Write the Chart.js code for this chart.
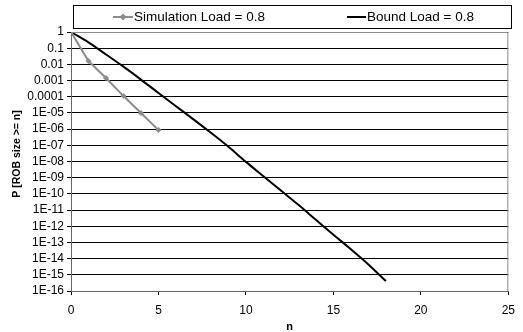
<!DOCTYPE html>
<html><head><meta charset="utf-8">
<script src="https://cdn.jsdelivr.net/npm/chart.js@4/dist/chart.umd.min.js"></script>
<style>html,body{margin:0;padding:0;background:#fff}#wrap{width:523px;height:332px}</style>
</head><body><div id="wrap"><canvas id="c" width="523" height="332"></canvas></div>
<script>
// ---- data ----
const simN = [0, 1, 2, 3, 4, 5];
const simP = [1, 0.016, 0.00145, 1.1e-4, 1.0e-5, 8.7e-7];
const boundN = [0, 1, 2, 3, 4, 5, 6, 7, 8, 9, 10, 11, 12, 13, 14, 15, 16, 17, 18];
const boundP = [1, 0.23, 0.041, 0.0072, 0.00115, 1.7e-4, 2.6e-5, 4.0e-6, 5.9e-7, 8.1e-8, 9.5e-9,
                1.23e-9, 1.6e-10, 2.1e-11, 2.5e-12, 3.0e-13, 3.8e-14, 4.4e-15, 4.1e-16];
const xTickValues = [0, 5, 10, 15, 20, 25];
const yTickValues = [1, 1e-1, 1e-2, 1e-3, 1e-4, 1e-5, 1e-6, 1e-7, 1e-8, 1e-9, 1e-10, 1e-11, 1e-12, 1e-13, 1e-14, 1e-15, 1e-16];
const yTickLabels = ['1', '0.1', '0.01', '0.001', '0.0001', '1E-05', '1E-06', '1E-07', '1E-08', '1E-09', '1E-10', '1E-11', '1E-12', '1E-13', '1E-14', '1E-15', '1E-16'];
const seriesNames = ['Simulation Load = 0.8', 'Bound Load = 0.8'];
const xTitle = 'n';
const yTitle = 'P [ROB size >= n]';

const FONT = '"Liberation Sans", Arial, sans-serif';
Chart.defaults.font.family = FONT;
Chart.defaults.color = '#000';

const SIM_COLOR = '#8c8c8c';
const BOUND_COLOR = '#000000';

const decorPlugin = {
  id: 'decor',
  afterDraw(chart) {
    const ctx = chart.ctx;
    const a = chart.chartArea;
    ctx.save();
    // plot frame (top/right)
    ctx.strokeStyle = '#8c8c8c';
    ctx.lineWidth = 1;
    ctx.beginPath();
    ctx.moveTo(a.left, a.top + 0.5);
    ctx.lineTo(a.right - 0.5, a.top + 0.5);
    ctx.lineTo(a.right - 0.5, a.bottom);
    ctx.stroke();

    // legend box
    ctx.strokeStyle = '#000';
    ctx.lineWidth = 1;
    ctx.strokeRect(73.5, 5.5, 438, 23);
    const ly = 17;
    ctx.font = '13.5px ' + FONT;
    ctx.textBaseline = 'middle';
    ctx.textAlign = 'left';
    ctx.fillStyle = '#000';
    // series 1 sample
    ctx.strokeStyle = SIM_COLOR;
    ctx.lineWidth = 2;
    ctx.beginPath(); ctx.moveTo(113, ly); ctx.lineTo(133, ly); ctx.stroke();
    ctx.fillStyle = SIM_COLOR;
    ctx.beginPath();
    ctx.moveTo(123, ly - 3.5); ctx.lineTo(126.5, ly); ctx.lineTo(123, ly + 3.5); ctx.lineTo(119.5, ly);
    ctx.closePath(); ctx.fill();
    ctx.fillStyle = '#000';
    ctx.fillText(chart.data.datasets[0].label, 134, ly + 0.5);
    // series 2 sample
    ctx.strokeStyle = BOUND_COLOR;
    ctx.lineWidth = 2;
    ctx.beginPath(); ctx.moveTo(347, ly); ctx.lineTo(366, ly); ctx.stroke();
    ctx.fillText(chart.data.datasets[1].label, 367, ly + 0.5);

    // y axis title
    ctx.font = 'bold 10.5px ' + FONT;
    ctx.translate(17.5, 154);
    ctx.rotate(-Math.PI / 2);
    ctx.textAlign = 'center';
    ctx.textBaseline = 'middle';
    ctx.fillText(yTitle, 0, 0);
    ctx.restore();
  }
};

new Chart(document.getElementById('c'), {
  type: 'line',
  data: {
    datasets: [
      {
        label: seriesNames[0],
        data: simN.map((n, i) => ({ x: n, y: simP[i] })),
        borderColor: SIM_COLOR,
        backgroundColor: SIM_COLOR,
        borderWidth: 2,
        pointStyle: 'rectRot',
        pointRadius: 3,
        pointBorderWidth: 0,
        tension: 0
      },
      {
        label: seriesNames[1],
        data: boundN.map((n, i) => ({ x: n, y: boundP[i] })),
        borderColor: BOUND_COLOR,
        backgroundColor: BOUND_COLOR,
        borderWidth: 2,
        pointRadius: 0,
        cubicInterpolationMode: 'monotone'
      }
    ]
  },
  options: {
    responsive: false,
    animation: false,
    devicePixelRatio: 1,
    layout: { padding: { top: 32, right: 8, left: 0, bottom: 0 } },
    plugins: { legend: { display: false }, tooltip: { enabled: false } },
    scales: {
      x: {
        type: 'linear',
        min: 0, max: 25,
        afterBuildTicks: s => { s.ticks = xTickValues.map(v => ({ value: v })); },
        afterFit: s => { s.height = 41; },
        grid: { drawOnChartArea: false, tickLength: 4, color: '#000' },
        border: { color: '#666', width: 1 },
        ticks: { font: { size: 12 }, color: '#000', padding: 8, maxRotation: 0, autoSkip: false },
        title: { display: true, text: xTitle, font: { size: 11, weight: 'bold' }, color: '#000', padding: { top: 0, bottom: -2 } }
      },
      y: {
        type: 'logarithmic',
        min: 1e-16, max: 1,
        afterBuildTicks: s => { s.ticks = yTickValues.slice().reverse().map(v => ({ value: v })); },
        afterFit: s => { s.width = 71; },
        grid: { color: '#000', tickLength: 4, lineWidth: 1 },
        border: { color: '#666', width: 1 },
        ticks: {
          font: { size: 12 }, color: '#000', padding: 3, autoSkip: false,
          callback: (value) => {
            const i = yTickValues.findIndex(v => Math.abs(Math.log10(v) - Math.log10(value)) < 1e-6);
            return i >= 0 ? yTickLabels[i] : '';
          }
        }
      }
    }
  },
  plugins: [decorPlugin]
});
</script>
</body></html>
